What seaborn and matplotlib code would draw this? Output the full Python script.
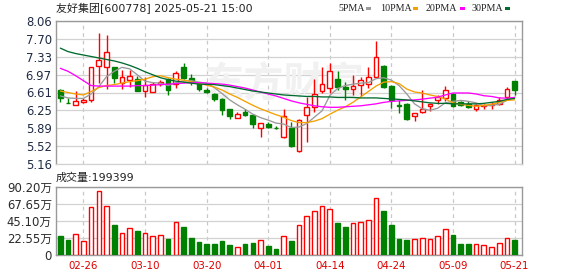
import numpy as np
import pandas as pd
import matplotlib
matplotlib.use("Agg")
import matplotlib.pyplot as plt
from matplotlib.patches import Rectangle
import seaborn as sns

# ---------------- data ----------------
open_ = [6.66, 6.40, 6.36, 6.42, 6.45, 7.14, 7.12, 7.12, 6.81, 6.87,
         6.89, 6.64, 6.63, 6.78, 6.89, 6.78, 7.12, 6.91, 6.79, 6.66,
         6.58, 6.48, 6.28, 6.09, 6.21, 6.16, 5.89, 5.98, 5.90, 5.71,
         5.88, 5.42, 6.16, 6.31, 6.64, 6.70, 6.89, 6.72, 6.68, 6.77,
         6.78, 6.93, 7.15, 6.75, 6.35, 6.38, 6.14, 6.21, 6.33, 6.46,
         6.50, 6.58, 6.41, 6.38, 6.27, 6.33, 6.36, 6.38, 6.52, 6.85]
close = [6.50, 6.39, 6.44, 6.46, 7.12, 7.26, 7.43, 6.90, 6.92, 6.94,
         6.65, 6.77, 6.79, 6.83, 6.66, 7.00, 6.91, 6.83, 6.69, 6.63,
         6.47, 6.26, 6.13, 6.17, 6.15, 5.97, 5.99, 5.92, 5.88, 6.13,
         5.52, 6.06, 6.31, 6.58, 6.78, 7.04, 6.73, 6.68, 6.75, 6.87,
         6.93, 7.33, 6.72, 6.46, 6.33, 6.08, 6.19, 6.27, 6.38, 6.52,
         6.66, 6.33, 6.36, 6.31, 6.36, 6.36, 6.38, 6.46, 6.69, 6.66]
high = [6.68, 6.49, 6.64, 6.49, 7.13, 7.82, 7.78, 7.13, 7.07, 7.07,
        6.95, 6.93, 6.83, 6.87, 6.90, 7.05, 7.21, 6.98, 6.81, 6.71,
        6.59, 6.49, 6.28, 6.21, 6.28, 6.16, 6.00, 6.01, 5.94, 6.28,
        6.02, 6.07, 6.51, 6.89, 7.13, 7.20, 7.04, 6.82, 6.97, 6.93,
        7.12, 7.66, 7.16, 6.76, 6.46, 6.39, 6.20, 6.66, 6.39, 6.56,
        6.75, 6.60, 6.43, 6.43, 6.38, 6.38, 6.41, 6.52, 6.73, 6.85]
low = [6.41, 6.39, 6.35, 6.40, 6.41, 6.81, 6.68, 6.81, 6.68, 6.72,
       6.64, 6.52, 6.62, 6.74, 6.56, 6.71, 6.89, 6.77, 6.65, 6.60,
       6.44, 6.16, 6.07, 6.09, 6.14, 5.88, 5.70, 5.89, 5.86, 5.69,
       5.51, 5.40, 5.61, 6.21, 6.59, 6.60, 6.66, 6.46, 6.55, 6.53,
       6.70, 6.93, 6.70, 6.29, 6.19, 6.06, 6.04, 6.20, 6.23, 6.38,
       6.43, 6.32, 6.33, 6.29, 6.23, 6.28, 6.27, 6.36, 6.46, 6.56]
ma5 = [6.54, 6.50, 6.49, 6.49, 6.58, 6.73, 6.93, 7.04, 7.12, 7.09,
       6.97, 6.84, 6.81, 6.80, 6.75, 6.81, 6.84, 6.85, 6.82, 6.80,
       6.71, 6.59, 6.46, 6.36, 6.27, 6.17, 6.10, 6.05, 5.99, 5.97,
       5.90, 5.91, 5.98, 6.11, 6.24, 6.55, 6.69, 6.75, 6.78, 6.80,
       6.81, 6.89, 6.91, 6.86, 6.75, 6.58, 6.38, 6.28, 6.25, 6.29,
       6.40, 6.43, 6.45, 6.43, 6.40, 6.34, 6.35, 6.37, 6.45, 6.51]
ma10 = [6.64, 6.61, 6.58, 6.56, 6.63, 6.71, 6.75, 6.77, 6.80, 6.83,
        6.85, 6.88, 6.93, 6.95, 6.91, 6.88, 6.86, 6.83, 6.79, 6.76,
        6.72, 6.66, 6.58, 6.51, 6.43, 6.35, 6.28, 6.22, 6.16, 6.11,
        6.04, 6.00, 6.00, 6.03, 6.08, 6.17, 6.25, 6.32, 6.41, 6.52,
        6.63, 6.74, 6.82, 6.83, 6.79, 6.68, 6.62, 6.60, 6.56, 6.53,
        6.48, 6.40, 6.37, 6.35, 6.33, 6.35, 6.37, 6.41, 6.45, 6.46]
ma20 = [7.10, 7.04, 6.95, 6.85, 6.75, 6.74, 6.74, 6.74, 6.74, 6.74,
        6.75, 6.75, 6.76, 6.77, 6.78, 6.79, 6.80, 6.81, 6.81, 6.80,
        6.79, 6.78, 6.76, 6.73, 6.70, 6.66, 6.62, 6.58, 6.54, 6.49,
        6.44, 6.40, 6.37, 6.34, 6.32, 6.31, 6.31, 6.32, 6.33, 6.34,
        6.36, 6.38, 6.41, 6.43, 6.44, 6.45, 6.46, 6.475, 6.495, 6.515,
        6.56, 6.60, 6.60, 6.60, 6.58, 6.545, 6.53, 6.50, 6.495, 6.51]
ma30 = [7.51, 7.44, 7.40, 7.37, 7.34, 7.31, 7.28, 7.25, 7.21, 7.16,
        7.10, 7.03, 6.97, 6.91, 6.87, 6.84, 6.82, 6.80, 6.78, 6.775,
        6.77, 6.75, 6.73, 6.70, 6.67, 6.64, 6.62, 6.60, 6.58, 6.56,
        6.55, 6.54, 6.53, 6.53, 6.52, 6.52, 6.51, 6.51, 6.51, 6.50,
        6.50, 6.50, 6.49, 6.48, 6.47, 6.46, 6.44, 6.42, 6.40, 6.39,
        6.39, 6.38, 6.38, 6.38, 6.38, 6.39, 6.41, 6.43, 6.47, 6.49]
volume_wan = [25.2, 19.9, 27.4, 18.1, 63.2, 84.5, 64.6, 39.8, 28.7, 35.4,
              31.8, 28.7, 24.8, 26.1, 21.2, 43.3, 37.1, 22.6, 17.2, 14.6,
              14.6, 18.6, 13.3, 10.2, 14.6, 15.9, 19.5, 11.9, 8.0, 24.8,
              18.6, 39.4, 51.3, 57.9, 64.6, 61.0, 42.0, 37.1, 42.0, 43.3,
              46.0, 75.2, 58.4, 39.8, 21.2, 19.9, 20.8, 22.1, 20.8, 24.8,
              34.0, 26.5, 14.2, 14.2, 14.2, 12.8, 10.2, 15.5, 22.1, 19.94]
date_pos = [3, 11, 19, 27, 35, 43, 51, 59]
date_labels = ["02-26", "03-10", "03-20", "04-01", "04-14", "04-24", "05-09", "05-21"]
price_ticks = ["5.16", "5.52", "5.89", "6.25", "6.61", "6.97", "7.33", "7.70", "8.06"]
vol_ticks = ["0", "22.55万", "45.10万", "67.65万", "90.20万"]
ma_names = ["5PMA", "10PMA", "20PMA", "30PMA"]
title = "友好集团[600778] 2025-05-21 15:00"
vol_title = "成交量:199399"

# ---------------- style ----------------
sns.set_theme(style="white")
plt.rcParams["font.family"] = ["DejaVu Sans", "Noto Sans CJK SC"]

RED = "#ff0000"
GREEN = "#008000"
MA_COLORS = ["#9a9a9a", "#f5a000", "#ff00ff", "#006b2e"]
GRID = "#d2d2d2"
FRAME = "#999999"

W, H = 578, 276
fig = plt.figure(figsize=(W / 100, H / 100), dpi=100)
fig.patch.set_facecolor("white")

ax = fig.add_axes([56 / W, 1 - 164 / H, 466 / W, 143 / H])
axv = fig.add_axes([56 / W, 1 - 255 / H, 466 / W, 68 / H])

df = pd.DataFrame({"i": np.arange(len(open_)), "open": open_, "close": close,
                   "high": high, "low": low, "ma5": ma5, "ma10": ma10,
                   "ma20": ma20, "ma30": ma30, "vol": volume_wan})
df["up"] = df["close"] >= df["open"]
edge = np.where(df["up"], RED, GREEN)
face = np.where(df["up"], "white", GREEN)

# ---- price panel ----
ax.set_axisbelow(True)
ax.vlines(df["i"], df["low"], df["high"], colors=edge, lw=1.0, zorder=2)
body_h = np.maximum((df["close"] - df["open"]).abs(), 0.012)
body_b = np.minimum(df["close"], df["open"])
ax.bar(df["i"], body_h, bottom=body_b, width=0.62, color=face,
       edgecolor=edge, linewidth=1.0, zorder=3)
for col, c in zip(["ma5", "ma10", "ma20", "ma30"], MA_COLORS):
    sns.lineplot(data=df, x="i", y=col, ax=ax, color=c, linewidth=0.95,
                 legend=False, zorder=4)

ax.text(0.49, 0.55, "东方财富", transform=ax.transAxes, ha="center", va="center",
        fontsize=29, color="#f1f1f1", family=["Noto Sans CJK SC"],
        fontweight="bold", zorder=0.6)

yt = np.linspace(5.16, 8.06, 9)
ax.set_ylim(5.16, 8.06)
ax.set_xlim(-0.56, 59.96)
ax.set_yticks(yt)
ax.set_yticklabels(price_ticks)
ax.set_xticks(date_pos)
ax.set_xticklabels([])
ax.set_xlabel("")
ax.set_ylabel("")
ax.grid(axis="y", color=GRID, lw=0.9, ls="-")
ax.grid(axis="x", color="#c8c8c8", lw=0.9, ls=(0, (3, 3)))
ax.tick_params(axis="both", length=0, pad=3)
ax.tick_params(axis="y", labelsize=8.4, labelcolor="#1f2a44")
for s in ["top", "left", "right"]:
    ax.spines[s].set_color(FRAME)
    ax.spines[s].set_linewidth(1)
ax.spines["bottom"].set_color(GRID)
ax.spines["bottom"].set_linewidth(0.9)

# ---- volume panel ----
axv.set_axisbelow(True)
axv.bar(df["i"], df["vol"], width=0.6, color=face, edgecolor=edge,
        linewidth=1.0, zorder=3)
axv.set_ylim(0, 90.2)
axv.set_xlim(-0.56, 59.96)
axv.set_yticks(np.linspace(0, 90.2, 5))
axv.set_yticklabels(vol_ticks)
axv.set_xticks(date_pos)
axv.set_xticklabels(date_labels)
axv.grid(axis="y", color=GRID, lw=0.9, ls="-")
axv.grid(axis="x", color="#c8c8c8", lw=0.9, ls=(0, (3, 3)))
axv.tick_params(axis="both", length=0)
axv.tick_params(axis="y", labelsize=8.4, labelcolor="#2a2a2a", pad=3)
axv.tick_params(axis="x", labelsize=7.4, labelcolor="#e00000", pad=4)
for s in axv.spines.values():
    s.set_color(FRAME)
    s.set_linewidth(1)

# ---- header texts ----
fig.text(56 / W, 1 - 8.5 / H, title, ha="left", va="center",
         fontsize=7.9, color="#222222")
fig.text(56 / W, 1 - 177.5 / H, vol_title, ha="left", va="center",
         fontsize=7.9, color="#222222")

leg_x = [338, 380, 426, 472]
sq_x = [366, 413, 460, 505]
for name, c, tx, sx in zip(ma_names, MA_COLORS, leg_x, sq_x):
    fig.text(tx / W, 1 - 8.5 / H, name, ha="left", va="center",
             fontsize=7.2, color="#222222", family=["Liberation Serif"])
    fig.patches.append(Rectangle((sx / W, 1 - 10 / H), 5 / W, 3 / H,
                                 transform=fig.transFigure, facecolor=c,
                                 edgecolor="none"))

fig.savefig("out.png", dpi=100, facecolor="white")
